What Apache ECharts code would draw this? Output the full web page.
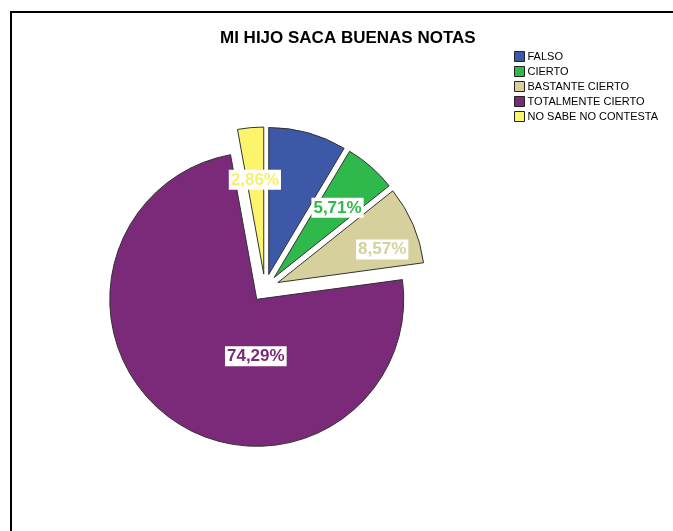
<!DOCTYPE html>
<html>
<head>
<meta charset="utf-8">
<script src="https://cdn.jsdelivr.net/npm/echarts@6/dist/echarts.min.js"></script>
<style>
  html, body { margin: 0; padding: 0; background: #fff; }
  #chart { width: 673px; height: 531px; }
</style>
</head>
<body>
<div id="chart"></div>
<script>
'use strict';

// datos: recuento de respuestas
var categorias = ['FALSO', 'CIERTO', 'BASTANTE CIERTO', 'TOTALMENTE CIERTO', 'NO SABE NO CONTESTA'];
var valores = [3, 2, 3, 26, 1];
var mostrarEtiqueta = [false, true, true, true, true];

// estilos
var colores = ['#3e58a8', '#2fb84c', '#d6d09c', '#7b2a7a', '#fbf46c'];
var coloresTexto = ['#3e58a8', '#2fb84c', '#d6d09c', '#7b2a7a', '#f8f06a'];
// ajuste fino de la posicion de las etiquetas
var desplazamientos = [[0, 0], [13, -12], [34, -3], [44, -5], [-2, -18]];

var chart = echarts.init(document.getElementById('chart'));

var datos = categorias.map(function (nombre, i) {
    return {
        name: nombre,
        value: valores[i],
        selected: true,
        itemStyle: { color: colores[i] },
        label: {
            show: mostrarEtiqueta[i],
            color: coloresTexto[i]
        }
    };
});

chart.setOption({
    animation: false,
    backgroundColor: '#fff',
    title: {
        text: 'MI HIJO SACA BUENAS NOTAS',
        left: 215,
        top: 25,
        textStyle: {
            fontFamily: 'Liberation Sans',
            fontSize: 17,
            fontWeight: 'bold',
            color: '#000'
        }
    },
    legend: {
        orient: 'vertical',
        left: 514,
        top: 51,
        padding: 0,
        itemWidth: 10,
        itemHeight: 10,
        itemGap: 4,
        icon: 'rect',
        selectedMode: false,
        itemStyle: { borderColor: '#222', borderWidth: 1 },
        textStyle: {
            fontFamily: 'Liberation Sans',
            fontSize: 11,
            color: '#000',
            padding: [0, 0, 0, -2]
        },
        data: categorias
    },
    graphic: [{
        type: 'polyline',
        shape: { points: [[11, 531], [11, 12], [673, 12]] },
        style: { stroke: '#000', lineWidth: 2, fill: null },
        silent: true
    }],
    series: [{
        name: 'MI HIJO SACA BUENAS NOTAS',
        type: 'pie',
        center: [265, 288],
        radius: [0, 147],
        startAngle: 90,
        clockwise: true,
        selectedMode: 'multiple',
        selectedOffset: 14,
        avoidLabelOverlap: false,
        itemStyle: { borderColor: '#333', borderWidth: 1 },
        emphasis: { disabled: true },
        select: { itemStyle: { borderColor: '#333', borderWidth: 1 } },
        label: {
            position: 'inside',
            fontFamily: 'Liberation Sans',
            fontSize: 17,
            fontWeight: 'bold',
            backgroundColor: '#fff',
            padding: [2, 2, 1, 2],
            formatter: function (p) {
                return p.percent.toFixed(2).replace('.', ',') + '%';
            }
        },
        labelLayout: function (params) {
            var d = desplazamientos[params.dataIndex];
            return { dx: d[0], dy: d[1] };
        },
        labelLine: { show: false },
        data: datos
    }]
});
</script>
</body>
</html>
